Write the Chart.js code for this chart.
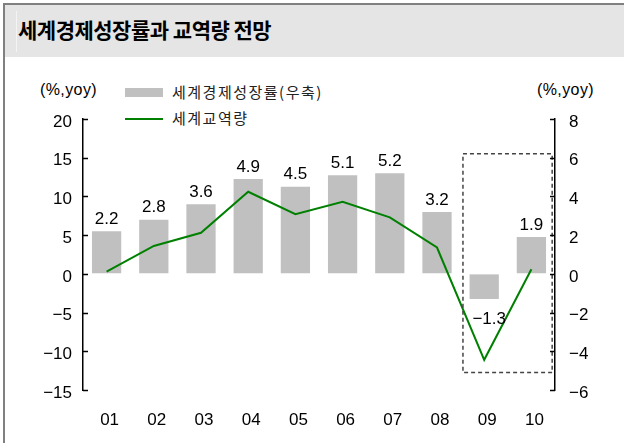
<!DOCTYPE html>
<html>
<head>
<meta charset="utf-8">
<script src="https://cdn.jsdelivr.net/npm/chart.js@4.4.0/dist/chart.umd.min.js"></script>
<style>
  html, body { margin: 0; padding: 0; background: #fff; }
  body { width: 624px; height: 443px; position: relative; overflow: hidden; font-family: "Liberation Sans", Arial, sans-serif; }
  #frame { position: absolute; left: 3px; top: 3px; width: 621px; height: 440px; border-left: 2px solid #808080; border-top: 2px solid #808080; }
  #header { position: absolute; left: 0; top: 0; width: 100%; height: 52px; background: #e5e5e5; }
  #header .bar { position: absolute; left: 11px; top: 6px; width: 1px; height: 41px; background: #f4f4f4; }
  #title { position: absolute; left: 13px; top: 9px; font-family: "Noto Sans CJK KR", sans-serif; font-weight: bold; font-size: 21px; letter-spacing: -0.5px; color: #000; line-height: 30px; }
  .unit { position: absolute; top: 81px; font-size: 16px; color: #000; letter-spacing: 0.4px; }
  .legend { position: absolute; left: 125px; font-family: "Noto Sans CJK KR", sans-serif; font-size: 15px; letter-spacing: 1.5px; color: #222; line-height: 20px; }
  .legend .sw { position: absolute; left: 0; }
  .legend span.t { position: absolute; left: 47px; white-space: nowrap; }
  canvas { position: absolute; left: 0; top: 0; }
</style>
</head>
<body>
<div id="frame">
  <div id="header"><div class="bar"></div><div id="title">세계경제성장률과 교역량 전망</div></div>
</div>
<div class="unit" style="left:40px">(%,yoy)</div>
<div class="unit" style="left:537px">(%,yoy)</div>
<div id="legBar" class="legend" style="top:82px"><div class="sw" style="top:6px;width:38px;height:9px;background:#c0c0c0"></div><span class="t"></span></div>
<div id="legLine" class="legend" style="top:108px"><div class="sw" style="top:10px;width:38px;height:2px;background:#008000"></div><span class="t"></span></div>
<canvas id="chart" width="624" height="443"></canvas>
<script>
const years = ['01', '02', '03', '04', '05', '06', '07', '08', '09', '10'];
const growthLabel = '세계경제성장률(우축)';
const tradeLabel = '세계교역량';
const growth = [2.2, 2.8, 3.6, 4.9, 4.5, 5.1, 5.2, 3.2, -1.3, 1.9];
const trade = [0.3, 3.6, 5.3, 10.6, 7.7, 9.3, 7.3, 3.4, -11.1, 0.6];
const leftRange = [-15, 20, 5];
const rightRange = [-6, 8, 2];
// dashed box around the forecast years (category index / right-axis units)
const boxX = [7.55, 9.44];
const boxY = [6.2, -5.1];

document.querySelector('#legBar .t').textContent = growthLabel;
document.querySelector('#legLine .t').textContent = tradeLabel;

const minus = v => String(v).replace('-', '\u2212');
const tickFont = { family: '"Liberation Sans", Arial, sans-serif', size: 17 };

const innerTicks = {
  id: 'innerTicks',
  afterDraw(chart) {
    const ctx = chart.ctx;
    ctx.save();
    ctx.strokeStyle = '#000';
    ctx.lineWidth = 1.5;
    ['yL', 'yR'].forEach(id => {
      const s = chart.scales[id];
      s.ticks.forEach(t => {
        const y = Math.round(s.getPixelForValue(t.value)) + 0.5;
        ctx.beginPath();
        if (id === 'yL') { ctx.moveTo(s.right, y); ctx.lineTo(s.right + 5, y); }
        else { ctx.moveTo(s.left, y); ctx.lineTo(s.left - 5, y); }
        ctx.stroke();
      });
    });
    ctx.restore();
  }
};

const extras = {
  id: 'extras',
  afterDatasetsDraw(chart) {
    const ctx = chart.ctx;
    const x = chart.scales.x, yR = chart.scales.yR;
    ctx.save();
    // forecast box
    ctx.strokeStyle = '#444';
    ctx.lineWidth = 1.5;
    ctx.setLineDash([4, 3]);
    const x0 = x.getPixelForValue(boxX[0]), x1 = x.getPixelForValue(boxX[1]);
    const y0 = yR.getPixelForValue(boxY[0]), y1 = yR.getPixelForValue(boxY[1]);
    ctx.strokeRect(x0, y0, x1 - x0, y1 - y0);
    ctx.setLineDash([]);
    // bar value labels
    ctx.fillStyle = '#000';
    ctx.font = '17px "Liberation Sans", Arial, sans-serif';
    ctx.textAlign = 'center';
    ctx.textBaseline = 'middle';
    const meta = chart.getDatasetMeta(1);
    meta.data.forEach((el, i) => {
      const v = growth[i];
      if (v >= 0) ctx.fillText(minus(v), el.x, el.y - 12);
      else ctx.fillText(minus(v), el.x + 5, el.y + 20);
    });
    ctx.restore();
  }
};

new Chart(document.getElementById('chart'), {
  type: 'bar',
  data: {
    labels: years,
    datasets: [
      {
        type: 'line',
        label: tradeLabel,
        data: trade,
        yAxisID: 'yL',
        borderColor: '#008000',
        borderWidth: 2,
        pointRadius: 0,
        tension: 0,
        order: 0
      },
      {
        label: growthLabel,
        data: growth,
        yAxisID: 'yR',
        backgroundColor: '#c0c0c0',
        barPercentage: 0.62,
        categoryPercentage: 1,
        order: 1
      }
    ]
  },
  options: {
    responsive: false,
    animation: false,
    layout: { padding: { top: 119, bottom: 0, left: 0, right: 0 } },
    plugins: { legend: { display: false }, tooltip: { enabled: false } },
    scales: {
      x: {
        offset: true,
        grid: { display: false },
        border: { display: false },
        ticks: { color: '#000', font: tickFont, padding: 12, labelOffset: 3 },
        afterFit: s => { s.height = 53; }
      },
      yL: {
        position: 'left',
        min: leftRange[0], max: leftRange[1],
        ticks: { stepSize: leftRange[2], color: '#000', font: tickFont, padding: 11, labelOffset: 3, callback: minus },
        grid: { drawOnChartArea: false, drawTicks: false },
        border: { color: '#000', width: 1.5 },
        afterFit: s => { s.width = 83; }
      },
      yR: {
        position: 'right',
        min: rightRange[0], max: rightRange[1],
        ticks: { stepSize: rightRange[2], color: '#000', font: tickFont, padding: 14, labelOffset: 3, callback: minus },
        grid: { drawOnChartArea: false, drawTicks: false },
        border: { color: '#000', width: 1.5 },
        afterFit: s => { s.width = 69; }
      }
    }
  },
  plugins: [innerTicks, extras]
});
</script>
</body>
</html>
